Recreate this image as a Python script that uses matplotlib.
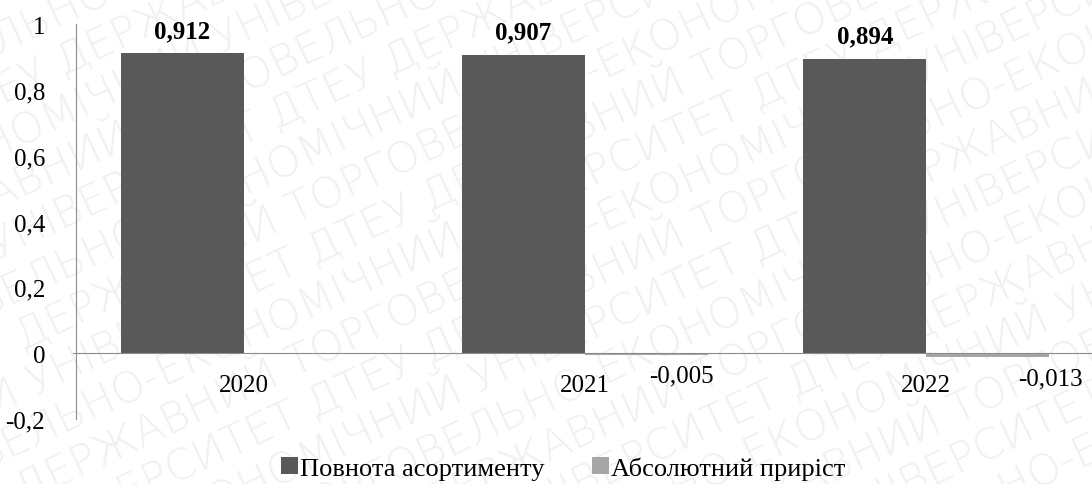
import numpy as np
import matplotlib.pyplot as plt
from matplotlib.ticker import FuncFormatter

years = ["2020", "2021", "2022"]
completeness = [0.912, 0.907, 0.894]
abs_growth = [None, -0.005, -0.013]
series_names = ["Повнота асортименту", "Абсолютний приріст"]
y_ticks = [-0.2, 0, 0.2, 0.4, 0.6, 0.8, 1.0]
watermark = "ДТЕУ ДЕРЖАВНИЙ ТОРГОВЕЛЬНО-ЕКОНОМІЧНИЙ УНІВЕРСИТЕТ "

plt.rcParams["font.family"] = ["Liberation Serif", "DejaVu Serif"]

W, H = 1092, 485
fig = plt.figure(figsize=(W / 100, H / 100), dpi=100)

# faint diagonal watermark behind the chart (pixel coordinates)
bg = fig.add_axes([0, 0, 1, 1], zorder=-5)
bg.set_axis_off()
bg.set_xlim(0, W)
bg.set_ylim(0, H)
ang = np.radians(25)
for k in range(-16, 17):
    yk = H / 2 + k * 51
    xa, ya = W / 2, yk
    # slide anchor along the line so it stays inside the figure
    if yk > H - 5:
        ya = H - 5
        xa = W / 2 + (ya - yk) / np.tan(ang)
    elif yk < 5:
        ya = 5
        xa = W / 2 + (ya - yk) / np.tan(ang)
    if xa < 0 or xa > W:
        continue
    shift = (k * 17) % len(watermark)
    line = (watermark * 4)[shift:shift + 3 * len(watermark)]
    bg.text(xa, ya, line, rotation=25, rotation_mode="anchor",
            ha="center", va="center", fontsize=31, fontweight=200, color="#f0f0f0",
            family="DejaVu Sans", clip_on=True)

ax = fig.add_axes([73 / W, 65 / H, 1024 / W, 395 / H])
ax.patch.set_visible(False)

dark = "#595959"
light = "#a6a6a6"
w = 0.36
x = list(range(len(years)))

b1 = ax.bar([i - w / 2 for i in x], completeness, w, color=dark, label=series_names[0], zorder=2)
growth_vals = [v if v is not None else 0 for v in abs_growth]
b2 = ax.bar([i + w / 2 for i in x], growth_vals, w, color=light, label=series_names[1], zorder=2)

ax.bar_label(b1, labels=[f"{v:.3f}".replace(".", ",") for v in completeness],
             padding=8, fontsize=18, fontweight="bold")

# labels of the negative bars were moved to the right in the original
label_shift = [0, 25, 45]
for i, v in enumerate(abs_growth):
    if v is None:
        continue
    ax.annotate(f"{v:.3f}".replace(".", ","), (i + w / 2, v), xytext=(label_shift[i], -7),
                textcoords="offset points", ha="center", va="top", fontsize=18)

ax.set_xlim(-0.5, 2.5)
ax.set_ylim(-0.2, 1.0)
ax.set_yticks(y_ticks)
ax.yaxis.set_major_formatter(FuncFormatter(lambda v, p: f"{v:g}".replace(".", ",")))
ax.set_xticks(x, years)

ax.spines["top"].set_visible(False)
ax.spines["right"].set_visible(False)
ax.spines["left"].set_position(("outward", -2))
ax.spines["left"].set_color("#8c8c8c")
ax.spines["bottom"].set_position(("data", 0))
ax.spines["bottom"].set_color("#8c8c8c")
ax.spines["bottom"].set_zorder(3)
ax.tick_params(axis="both", length=0, labelsize=18)
ax.tick_params(axis="y", pad=22)
ax.tick_params(axis="x", pad=15)

ax.legend(loc="center", bbox_to_anchor=(563 / W, 16 / H), bbox_transform=fig.transFigure,
          ncol=2, frameon=False, fontsize=19, handlelength=0.65, handleheight=0.65,
          handletextpad=0.08, columnspacing=1.8)

fig.savefig("out.png", dpi=100)
